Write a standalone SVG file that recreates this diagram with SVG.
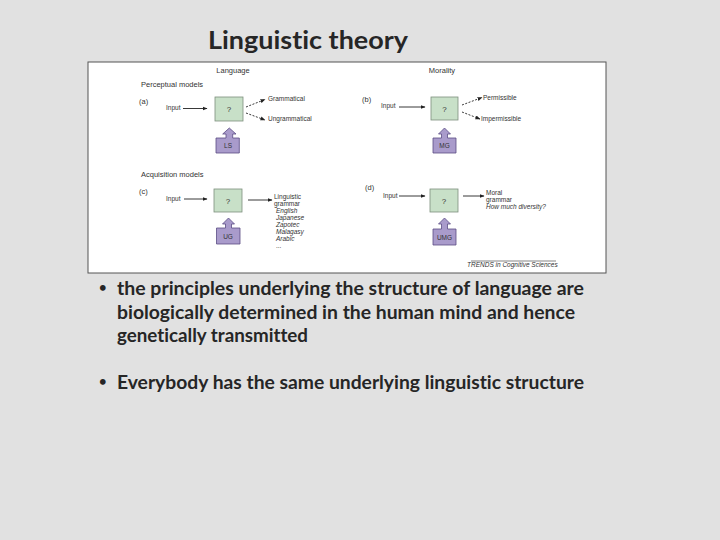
<svg xmlns="http://www.w3.org/2000/svg" width="720" height="540" viewBox="0 0 720 540">
<defs>
<marker id="ah" viewBox="0 0 10 10" refX="9" refY="5" markerWidth="5" markerHeight="5" orient="auto" markerUnits="userSpaceOnUse">
<path d="M0,1 L10,5 L0,9 Z" fill="#222"/>
</marker>
<style>
.slide{font-family:Lato,"Open Sans","Liberation Sans",sans-serif;font-weight:bold;fill:#262626;font-variant-ligatures:none}
.f{font-family:"Liberation Sans",Arial,sans-serif;fill:#333}
.h{font-size:7.5px}
.s{font-size:6.5px}
.it{font-style:italic}
.q{fill:#c8e0c8;stroke:#7d8f7d;stroke-width:0.8}
.p{fill:#a99bcb;stroke:#5b4c84;stroke-width:0.8}
.c{stroke:#222;stroke-width:0.9;fill:none;marker-end:url(#ah)}
.d{stroke-dasharray:2 1.5}
</style>
</defs>
<rect width="720" height="540" fill="#e1e1e1"/>
<text class="slide" x="208" y="49" font-size="24" textLength="200" lengthAdjust="spacingAndGlyphs">Linguistic theory</text>

<g id="figure">
<rect x="88" y="62" width="518" height="211" fill="#ffffff" stroke="#555" stroke-width="1"/>
<text class="f h" x="233" y="73" text-anchor="middle">Language</text>
<text class="f h" x="442" y="73" text-anchor="middle">Morality</text>
<text class="f h" x="141" y="87">Perceptual models</text>
<text class="f h" x="141" y="177">Acquisition models</text>
<text class="f h" x="139" y="104">(a)</text>
<text class="f h" x="362" y="102">(b)</text>
<text class="f h" x="139" y="194">(c)</text>
<text class="f h" x="365" y="190">(d)</text>
<text class="f s" x="467" y="267" font-size="6" font-style="italic">TRENDS in Cognitive Sciences</text>
<line x1="471" y1="261" x2="556" y2="261" stroke="#333" stroke-width="0.6"/>
</g>

<g id="node-a">
<text class="f s" x="166" y="110">Input</text>
<rect class="q" x="215" y="97" width="28" height="24"/>
<text class="f" x="229" y="111.5" font-size="8" text-anchor="middle">?</text>
<text class="f s" x="268" y="101">Grammatical</text>
<text class="f s" x="268" y="121">Ungrammatical</text>
</g>
<g id="node-ls">
<path class="p" d="M216,138 H226 V134 H222.7 L229.3,128 L236,134 H232.7 V138 H239.3 V153 H216 Z"/>
<text class="f s" x="228" y="148" text-anchor="middle">LS</text>
</g>

<g id="node-b">
<text class="f s" x="381" y="108">Input</text>
<rect class="q" x="431" y="97" width="27" height="23"/>
<text class="f" x="444.5" y="111.5" font-size="8" text-anchor="middle">?</text>
<text class="f s" x="483" y="100">Permissible</text>
<text class="f s" x="481" y="121">Impermissible</text>
</g>
<g id="node-mg">
<path class="p" d="M433,138 H441.5 V134 H438.5 L444.5,128 L450.5,134 H447.5 V138 H456 V153 H433 Z"/>
<text class="f s" x="444.5" y="148" text-anchor="middle">MG</text>
</g>

<g id="node-c">
<text class="f s" x="166" y="201">Input</text>
<rect class="q" x="214" y="189" width="28" height="23"/>
<text class="f" x="228" y="203.5" font-size="8" text-anchor="middle">?</text>
<text class="f s" x="274" y="199">Linguistic</text>
<text class="f s" x="274" y="206">grammar</text>
<text class="f s it" x="276" y="213">English</text>
<text class="f s it" x="276" y="220">Japanese</text>
<text class="f s it" x="276" y="227">Zapotec</text>
<text class="f s it" x="276" y="234">Malagasy</text>
<text class="f s it" x="276" y="241">Arabic</text>
<text class="f s" x="276" y="248">...</text>
</g>
<g id="node-ug">
<path class="p" d="M216.5,228 H225.5 V224 H222.5 L228.5,218 L234.5,224 H231.5 V228 H240 V244 H216.5 Z"/>
<text class="f s" x="228" y="239" text-anchor="middle">UG</text>
</g>

<g id="node-d">
<text class="f s" x="383" y="198">Input</text>
<rect class="q" x="430" y="189" width="28" height="23"/>
<text class="f" x="444" y="203.5" font-size="8" text-anchor="middle">?</text>
<text class="f s" x="486" y="195">Moral</text>
<text class="f s" x="486" y="202">grammar</text>
<text class="f s it" x="486" y="209">How much diversity?</text>
</g>
<g id="node-umg">
<path class="p" d="M433,229 H441.5 V224 H438.5 L444.5,218 L450.5,224 H447.5 V229 H456 V245 H433 Z"/>
<text class="f s" x="444.5" y="240" text-anchor="middle">UMG</text>
</g>

<g id="connectors">
<line class="c" x1="183" y1="108.5" x2="207" y2="108.5"/>
<line class="c d" x1="246" y1="107" x2="265" y2="99.5"/>
<line class="c d" x1="246" y1="113" x2="265" y2="120"/>
<line class="c" x1="399" y1="107" x2="425" y2="107"/>
<line class="c d" x1="462" y1="105" x2="482" y2="97.5"/>
<line class="c d" x1="462" y1="112" x2="480" y2="119"/>
<line class="c" x1="184" y1="199" x2="207" y2="199"/>
<line class="c" x1="248" y1="200" x2="272" y2="200"/>
<line class="c" x1="399" y1="196" x2="425" y2="196"/>
<line class="c" x1="463" y1="196" x2="484" y2="196"/>
</g>

<g id="bullets" class="slide" font-size="19">
<text x="99" y="292" font-size="13">•</text>
<text x="117" y="295" textLength="467" lengthAdjust="spacingAndGlyphs">the principles underlying the structure of language are</text>
<text x="117" y="319" textLength="458" lengthAdjust="spacingAndGlyphs">biologically determined in the human mind and hence</text>
<text x="117" y="342" textLength="191" lengthAdjust="spacingAndGlyphs">genetically transmitted</text>
<text x="99" y="386" font-size="13">•</text>
<text x="117" y="389" textLength="467" lengthAdjust="spacingAndGlyphs">Everybody has the same underlying linguistic structure</text>
</g>
</svg>
